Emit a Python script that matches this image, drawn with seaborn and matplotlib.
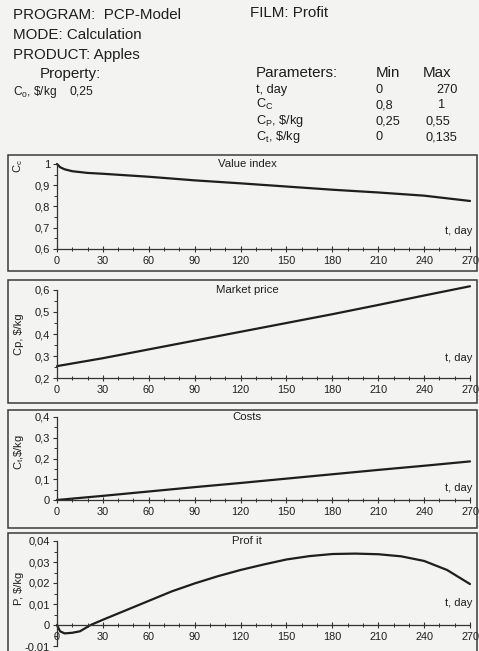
import numpy as np
import pandas as pd
import seaborn as sns
import matplotlib
matplotlib.use("Agg")
import matplotlib.pyplot as plt
from matplotlib.patches import Rectangle
from matplotlib.ticker import FuncFormatter, MultipleLocator

sns.set_theme(style="white")
plt.rcParams['font.family'] = ['Liberation Sans', 'DejaVu Sans']
plt.rcParams['mathtext.fontset'] = 'custom'
plt.rcParams['mathtext.rm'] = 'Liberation Sans'
plt.rcParams['mathtext.it'] = 'Liberation Sans:italic'

# ---------------- data ----------------
t_value = [0, 2, 5, 10, 20, 30, 60, 90, 120, 150, 180, 210, 240, 270]
value_index = [1.0, 0.985, 0.975, 0.966, 0.958, 0.954, 0.94, 0.923, 0.909, 0.894,
               0.879, 0.866, 0.851, 0.826]

t_price = [0, 30, 60, 90, 120, 150, 180, 210, 240, 270]
market_price = [0.254, 0.29, 0.33, 0.37, 0.41, 0.45, 0.49, 0.532, 0.575, 0.617]

t_cost = [0, 30, 60, 90, 120, 150, 180, 210, 240, 270]
costs = [0.0, 0.02, 0.041, 0.062, 0.082, 0.103, 0.124, 0.145, 0.165, 0.186]

t_profit = [0, 2, 5, 10, 15, 22, 30, 45, 60, 75, 90, 105, 120, 135, 150, 165, 180,
            195, 210, 225, 240, 255, 270]
profit = [0.0, -0.003, -0.004, -0.0037, -0.003, 0.0, 0.0025, 0.007, 0.0115, 0.016,
          0.0198, 0.0232, 0.0262, 0.0288, 0.0312, 0.0328, 0.0338, 0.034, 0.0337,
          0.0327, 0.0305, 0.0262, 0.0195]

x_ticks = [0, 30, 60, 90, 120, 150, 180, 210, 240, 270]

param_names = ['t, day', r'C$_\mathrm{C}$', r'C$_\mathrm{P}$, \$/kg', r'C$_\mathrm{t}$, \$/kg']
param_min = ['0', '0,8', '0,25', '0']
param_max = ['270', '1', '0,55', '0,135']

W, H = 479, 651
fig = plt.figure(figsize=(W / 100, H / 100), dpi=100)
bg = '#f3f3f1'
fig.patch.set_facecolor(bg)
ink = '#1e1e1e'

def fx(px):
    return px / W

def fy(py):
    return 1 - py / H

# ---------------- header ----------------
hs = 10.9
fig.text(fx(13), fy(19), 'PROGRAM:  PCP-Model', fontsize=hs, color=ink, va='baseline')
fig.text(fx(250), fy(17), 'FILM: Profit', fontsize=hs, color=ink, va='baseline')
fig.text(fx(13), fy(39), 'MODE: Calculation', fontsize=hs, color=ink, va='baseline')
fig.text(fx(13), fy(59), 'PRODUCT: Apples', fontsize=hs, color=ink, va='baseline')
fig.text(fx(40), fy(78), 'Property:', fontsize=hs, color=ink, va='baseline')
fig.text(fx(13), fy(95), r'C$_0$, \$/kg', fontsize=8.6, color=ink, va='baseline')
fig.text(fx(70), fy(95), '0,25', fontsize=8.8, color=ink, va='baseline')

fig.text(fx(256), fy(77), 'Parameters:', fontsize=hs, color=ink, va='baseline')
fig.text(fx(376), fy(77), 'Min', fontsize=hs, color=ink, va='baseline')
fig.text(fx(423), fy(77), 'Max', fontsize=hs, color=ink, va='baseline')
row_base = [93, 108, 124, 140]
for i, (name, mn, mx) in enumerate(zip(param_names, param_min, param_max)):
    yy = row_base[i]
    fig.text(fx(256), fy(yy), name, fontsize=9.2, color=ink, va='baseline')
    fig.text(fx(376), fy(yy), mn, fontsize=9.2, color=ink, va='baseline')
    if i == 0:
        fig.text(fx(458), fy(yy), mx, fontsize=9.2, color=ink, va='baseline', ha='right')
    elif i == 1:
        fig.text(fx(442), fy(yy), mx, fontsize=9.2, color=ink, va='baseline', ha='center')
    else:
        fig.text(fx(426), fy(yy), mx, fontsize=9.2, color=ink, va='baseline')

# ---------------- panels ----------------
ax_left, ax_right = 57, 470
panels = [
    dict(t=t_value, y=value_index, title='Value index', ylabel=r'C$_\mathrm{c}$',
         ylim=(0.6, 1.0), ytop=164, ybot=249, ystep=0.1, minor=0.05, dec=1,
         frame=(155, 271), tday=231, lab_x=18, lab_y=166),
    dict(t=t_price, y=market_price, title='Market price', ylabel=r'Cp, \$/kg',
         ylim=(0.2, 0.6), ytop=290, ybot=378, ystep=0.1, minor=0.05, dec=1,
         frame=(280, 403), tday=358, lab_x=19, lab_y=334),
    dict(t=t_cost, y=costs, title='Costs', ylabel=r'C$_\mathrm{t}$,\$/kg',
         ylim=(0.0, 0.4), ytop=417, ybot=500, ystep=0.1, minor=0.05, dec=1,
         frame=(410, 528), tday=488, lab_x=19, lab_y=452),
    dict(t=t_profit, y=profit, title='Prof it', ylabel=r'P, \$/kg',
         ylim=(-0.01, 0.04), ytop=541, ybot=646, ystep=0.01, minor=0.005, dec=2,
         frame=(533, 668), tday=603, lab_x=19, lab_y=588),
]

for p in panels:
    f0, f1 = p['frame']
    fig.patches.append(Rectangle((fx(8), fy(f1)), fx(469), fy(f0) - fy(f1),
                                 transform=fig.transFigure, fill=False,
                                 edgecolor='#3a3a3a', lw=1.1, zorder=0))
    ax = fig.add_axes([fx(ax_left), fy(p['ybot']), fx(ax_right - ax_left),
                       fy(p['ytop']) - fy(p['ybot'])])
    ax.set_facecolor('none')
    df = pd.DataFrame({'t': p['t'], 'v': p['y']})
    sns.lineplot(data=df, x='t', y='v', ax=ax, color=ink, lw=1.6, clip_on=False)
    ax.set_xlim(0, 270)
    ax.set_ylim(*p['ylim'])
    for s in ['top', 'right']:
        ax.spines[s].set_visible(False)
    for s in ['left', 'bottom']:
        ax.spines[s].set_color('#333333')
        ax.spines[s].set_linewidth(0.9)
    if p['ylim'][0] < 0:
        ax.spines['bottom'].set_position(('data', 0))
    ax.set_xticks(x_ticks)
    ax.xaxis.set_minor_locator(MultipleLocator(10))
    ax.yaxis.set_major_locator(MultipleLocator(p['ystep']))
    ax.yaxis.set_minor_locator(MultipleLocator(p['minor']))
    d = p['dec']
    ax.yaxis.set_major_formatter(FuncFormatter(
        lambda v, pos, d=d: ('0' if abs(v) < 1e-9 else (f'{v:.{d}f}'.replace('.', ',') if abs(v - round(v)) > 1e-9 else f'{int(round(v))}'))))
    ax.tick_params(axis='x', which='major', direction='inout', length=4, width=0.8,
                   colors='#333333', labelsize=7.8, labelcolor=ink, pad=3, bottom=True)
    ax.tick_params(axis='x', which='minor', direction='inout', length=3, width=0.7,
                   colors='#333333', bottom=True)
    ax.tick_params(axis='y', which='major', direction='out', length=3, width=0.8,
                   colors='#333333', labelsize=8.0, labelcolor=ink, pad=2, left=True)
    ax.tick_params(axis='y', which='minor', direction='out', length=2, width=0.7,
                   colors='#333333', left=True)
    ax.set_xlabel('')
    ax.set_ylabel('')
    ax.grid(False)
    fig.text(fx(247), fy(p['ytop']), p['title'], fontsize=8.2, color=ink,
             ha='center', va='center')
    fig.text(fx(p['lab_x']), fy(p['lab_y']), p['ylabel'], rotation=90, fontsize=8,
             color=ink, ha='center', va='center')
    fig.text(fx(472), fy(p['tday']), 't, day', fontsize=8, color=ink,
             ha='right', va='center')

fig.savefig('out.png', dpi=100, facecolor=bg)
